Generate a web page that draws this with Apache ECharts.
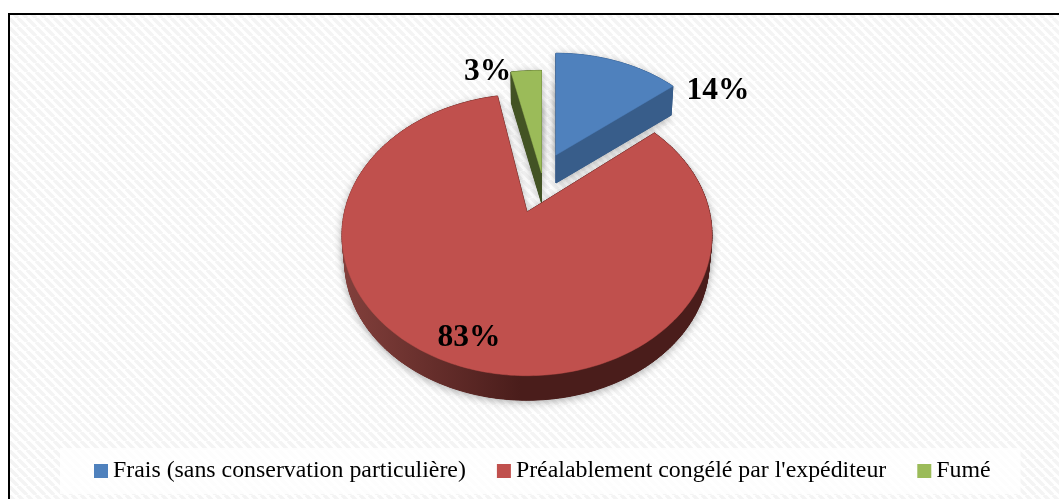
<!DOCTYPE html>
<html>
<head>
<meta charset="utf-8">
<title>Pie</title>
<script src="https://cdn.jsdelivr.net/npm/echarts@6/dist/echarts.min.js"></script>
<style>
html, body { margin: 0; padding: 0; background: #fff; }
#chart { width: 1059px; height: 499px; }
</style>
</head>
<body>
<div id="chart"></div>
<script>
var categories = ['Frais (sans conservation particulière)', "Préalablement congélé par l'expéditeur", 'Fumé'];
var shares = [14, 83, 3];
var topColors = ['#4f81bd', '#c0504d', '#9bbb59'];

// projected disc of each exploded slice: apex, half axes, perspective, thickness
var discs = [
    { x: 556, y: 155, a: 170, b: 121, k: 0.19, depth: 28 },
    { x: 527, y: 212, a: 182.5, b: 137, k: 0.163, depth: 27 },
    { x: 541.5, y: 173, a: 190, b: 120, k: 0.17, depth: 30 }
];
var wallColors = [
    '#385d8a',
    null,
    '#435324'
];
var labelOffsets = [[162, -64], [-58, 126], [-54, -101]];
var seriesZ = [3, 4, 2];

function stripes() {
    var c = document.createElement('canvas');
    c.width = 9;
    c.height = 9;
    var g = c.getContext('2d');
    g.fillStyle = '#ffffff';
    g.fillRect(0, 0, 9, 9);
    g.strokeStyle = '#f4f4f4';
    g.lineWidth = 3.5;
    [-9, 0, 9].forEach(function (o) {
        g.beginPath();
        g.moveTo(o, 0);
        g.lineTo(o + 9, 9);
        g.stroke();
    });
    return c;
}

function project(d, theta, r, scale, dy) {
    var rad = theta * Math.PI / 180;
    var den = 1 + d.k * r * Math.cos(rad);
    return [
        d.x + scale * d.a * r * Math.sin(rad) / den,
        d.y + dy - scale * d.b * r * Math.cos(rad) / den
    ];
}

function outline(d, from, to, scale, dy) {
    var pts = [project(d, from, 0, scale, dy)];
    var n = Math.ceil(to - from);
    for (var i = 0; i <= n; i++) {
        pts.push(project(d, from + (to - from) * i / n, 1, scale, dy));
    }
    return pts;
}

function sliceItem(index) {
    return function (params, api) {
        var total = shares.reduce(function (a, b) { return a + b; }, 0);
        var before = shares.slice(0, index).reduce(function (a, b) { return a + b; }, 0);
        var from = before / total * 360;
        var to = from + api.value(0) / total * 360;
        var d = discs[index];
        var top = outline(d, from, to, 1, 0);
        var bottom = outline(d, from, to, 0.985, d.depth);
        var wall = wallColors[index] || new echarts.graphic.LinearGradient(341, 0, 520, 0, [
            { offset: 0, color: '#83403c' },
            { offset: 1, color: '#4a1d1b' }
        ], true);
        var children = [];
        var shadow = { shadowBlur: 9, shadowColor: 'rgba(0,0,0,0.33)', shadowOffsetY: 2 };
        [top, bottom].forEach(function (pts) {
            children.push({
                type: 'polygon',
                shape: { points: pts },
                style: Object.assign({ fill: wall }, shadow)
            });
        });
        for (var i = 0; i < top.length; i++) {
            var j = (i + 1) % top.length;
            children.push({
                type: 'polygon',
                shape: { points: [top[i], top[j], bottom[j], bottom[i]] },
                style: { fill: wall, stroke: wall, lineWidth: 1 }
            });
        }
        children.push({
            type: 'polygon',
            shape: { points: top },
            style: { fill: topColors[index], stroke: topColors[index], lineWidth: 0.5 }
        });
        children.push({
            type: 'text',
            style: {
                text: api.value(0) + '%',
                x: d.x + labelOffsets[index][0],
                y: d.y + labelOffsets[index][1],
                fill: '#000',
                font: 'bold 31.5px "Liberation Serif"',
                align: 'center',
                verticalAlign: 'middle'
            }
        });
        return { type: 'group', children: children };
    };
}

var chart = echarts.init(document.getElementById('chart'));
chart.setOption({
    animation: false,
    backgroundColor: '#fff',
    graphic: [{
        type: 'rect',
        z: -1,
        shape: { x: 9, y: 14, width: 1060, height: 500 },
        style: { fill: { image: stripes(), repeat: 'repeat' }, stroke: '#000', lineWidth: 2 }
    }],
    legend: {
        left: 60,
        top: 448,
        padding: [11, 30, 11, 34],
        itemWidth: 14,
        itemHeight: 14,
        itemGap: 31,
        icon: 'rect',
        selectedMode: false,
        backgroundColor: 'rgba(255,255,255,0.8)',
        textStyle: { color: '#000', fontFamily: 'Liberation Serif', fontSize: 23.85 },
        data: categories
    },
    series: categories.map(function (name, i) {
        return {
            type: 'custom',
            name: name,
            coordinateSystem: 'none',
            silent: true,
            z: seriesZ[i],
            itemStyle: { color: topColors[i] },
            renderItem: sliceItem(i),
            data: [[shares[i]]]
        };
    })
});
</script>
</body>
</html>
